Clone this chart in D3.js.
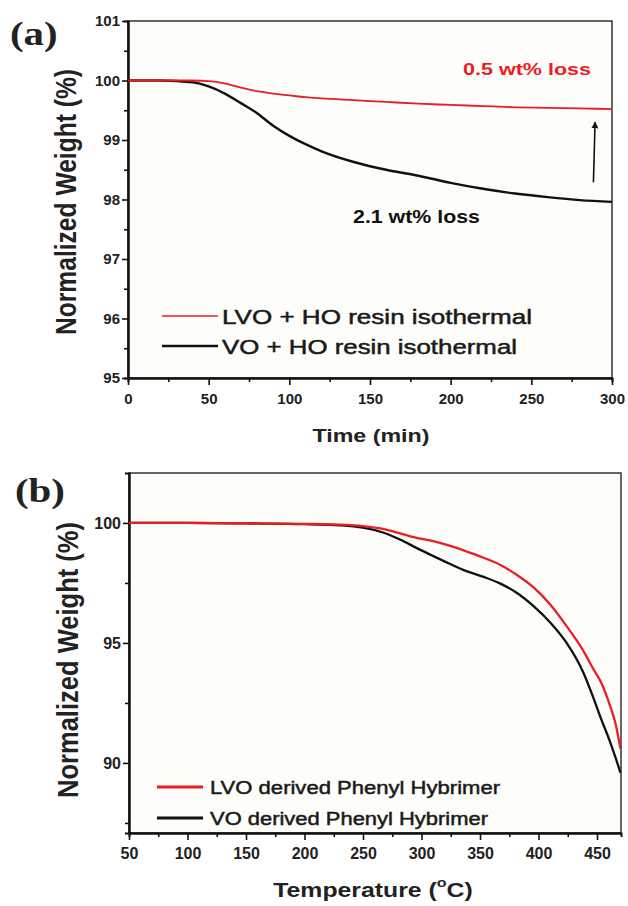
<!DOCTYPE html>
<html>
<head>
<meta charset="utf-8">
<title>TGA</title>
<script src="https://cdn.jsdelivr.net/npm/d3@7/dist/d3.min.js"></script>
<style>
  body { margin: 0; background: #fff; }
</style>
</head>
<body>
<script>
// panel (a): isothermal
const timeMin = [0, 20, 40, 50, 60, 70, 80, 90, 100, 110, 120, 140, 160, 180, 200, 220, 240, 260, 280, 300];
const lvoIso = [100, 100, 100, 99.99, 99.95, 99.88, 99.82, 99.78, 99.75, 99.72, 99.70, 99.67, 99.64, 99.61, 99.59, 99.57, 99.55, 99.54, 99.53, 99.52];
const voIso = [100, 100, 99.97, 99.9, 99.78, 99.62, 99.45, 99.24, 99.07, 98.93, 98.81, 98.63, 98.5, 98.4, 98.28, 98.18, 98.1, 98.04, 97.99, 97.96];
const timeTicks = [0, 50, 100, 150, 200, 250, 300];
const isoYTicks = [95, 96, 97, 98, 99, 100, 101];

// panel (b): ramp
const tempC = [50, 100, 150, 200, 230, 250, 267, 282, 296, 310, 324, 339, 353, 367, 381, 396, 410, 424, 438, 447, 453, 461, 466, 470];
const lvoTga = [100, 100, 99.98, 99.96, 99.93, 99.87, 99.75, 99.56, 99.38, 99.24, 99.05, 98.8, 98.55, 98.26, 97.85, 97.3, 96.6, 95.7, 94.7, 93.9, 93.4, 92.4, 91.6, 90.6];
const voTga = [100, 100, 99.98, 99.95, 99.9, 99.8, 99.6, 99.3, 98.95, 98.62, 98.3, 97.98, 97.75, 97.48, 97.1, 96.52, 95.85, 95.0, 93.8, 92.7, 91.9, 90.9, 90.2, 89.6];
const tempTicks = [50, 100, 150, 200, 250, 300, 350, 400, 450];
const tgaYTicks = [90, 95, 100];

const RED = "#ec1c24";
const SX = 1.24; // the source figure is stretched horizontally
const SANS = "'Liberation Sans', Arial, sans-serif";
const SERIF = "'Liberation Serif', 'Times New Roman', serif";

const svg = d3.select("body").append("svg").attr("width", 628).attr("height", 906)
  .attr("font-family", SANS);
svg.append("rect").attr("width", 628).attr("height", 906).attr("fill", "#fff");

function label(x, y, str, o) {
  o = o || {};
  const t = svg.append("text")
    .attr("transform", `translate(${x},${y}) scale(${SX},1)` + (o.rot ? " rotate(-90)" : ""))
    .attr("text-anchor", o.anchor || "start")
    .attr("font-size", o.size || 16)
    .attr("font-weight", o.bold ? "bold" : "normal")
    .attr("font-family", o.family || SANS)
    .attr("fill", o.fill || "#111")
    .text(str);
  if (o.heavy) t.attr("stroke", o.fill || "#111").attr("stroke-width", o.heavy);
  if (o.len) t.attr("textLength", o.len / (o.rot ? 1 : SX)).attr("lengthAdjust", "spacingAndGlyphs");
  return t;
}

function panel(p) {
  const x = d3.scaleLinear().domain(p.xd).range([p.l, p.r]);
  const y = d3.scaleLinear().domain(p.yd).range([p.b, p.t]);
  svg.append("rect").attr("x", p.l).attr("y", p.t).attr("width", p.r - p.l).attr("height", p.b - p.t)
    .attr("fill", "#fdfdf9").attr("stroke", "#333").attr("stroke-width", 1.5);

  const gxMinor = svg.append("g").attr("transform", `translate(0,${p.b})`)
    .call(d3.axisBottom(x).tickValues(p.xMinor).tickSize(4).tickFormat(""));
  const gyMinor = svg.append("g").attr("transform", `translate(${p.l},0)`)
    .call(d3.axisLeft(y).tickValues(p.yMinor).tickSize(4).tickFormat(""));
  const gx = svg.append("g").attr("transform", `translate(0,${p.b})`)
    .call(d3.axisBottom(x).tickValues(p.xTicks).tickSize(7).tickPadding(8).tickSizeOuter(0).tickFormat(d3.format("d")));
  const gy = svg.append("g").attr("transform", `translate(${p.l},0)`)
    .call(d3.axisLeft(y).tickValues(p.yTicks).tickSize(6).tickPadding(2).tickSizeOuter(0).tickFormat(d3.format("d")));
  [gxMinor, gyMinor, gx, gy].forEach(g => {
    g.select(".domain").attr("stroke", "#111").attr("stroke-width", 2);
    g.selectAll(".tick line").attr("stroke", "#111").attr("stroke-width", 1.6);
  });
  [gx, gy].forEach(g => g.selectAll(".tick text").attr("font-size", p.fs).attr("font-weight", "bold")
    .attr("fill", "#222").attr("font-family", SANS));

  const line = d3.line().x(d => x(d[0])).y(d => y(d[1])).curve(d3.curveMonotoneX);
  p.series.forEach(s => {
    svg.append("path").datum(p.xs.map((v, i) => [v, s.vals[i]]))
      .attr("d", line).attr("fill", "none").attr("stroke", s.color).attr("stroke-width", s.w);
  });
  return { x, y };
}

// ---------- (a)
const a = panel({
  l: 128, r: 612, t: 21, b: 378, xd: [0, 300], yd: [95, 101], fs: 15,
  xTicks: timeTicks, xMinor: d3.range(25, 300, 50), yTicks: isoYTicks, yMinor: d3.range(95.5, 101, 1),
  xs: timeMin,
  series: [{ vals: voIso, color: "#111", w: 2.4 }, { vals: lvoIso, color: RED, w: 1.8 }]
});

label(10, 45, "(a)", { size: 33, bold: true, family: SERIF, fill: "#222" });
label(76, 202, "Normalized Weight (%)", { rot: true, anchor: "middle", size: 24, bold: true, len: 266, fill: "#222" });
label(371, 442, "Time (min)", { anchor: "middle", size: 19, bold: true, len: 117, fill: "#222" });
label(463, 75, "0.5 wt% loss", { size: 17, bold: true, fill: RED, len: 128 });
label(353, 223, "2.1 wt% loss", { size: 18, bold: true, fill: "#111", len: 127 });

// arrow
svg.append("defs").append("marker").attr("id", "ah").attr("viewBox", "0 0 10 10")
  .attr("refX", 9).attr("refY", 5).attr("markerWidth", 7).attr("markerHeight", 9).attr("orient", "auto")
  .attr("markerUnits", "userSpaceOnUse")
  .append("path").attr("d", "M0,0L10,5L0,10Z").attr("fill", "#111");
svg.append("line").attr("x1", a.x(288.5)).attr("y1", a.y(98.29)).attr("x2", a.x(289.5)).attr("y2", a.y(99.3))
  .attr("stroke", "#111").attr("stroke-width", 1.6).attr("marker-end", "url(#ah)");

// legend (a)
const legA = [
  { name: "LVO + HO resin isothermal", color: RED, w: 1.4, y: 316 },
  { name: "VO + HO resin isothermal", color: "#111", w: 2.6, y: 346 }
];
legA.forEach(d => {
  svg.append("line").attr("x1", 162).attr("x2", 218).attr("y1", d.y).attr("y2", d.y)
    .attr("stroke", d.color).attr("stroke-width", d.w);
  label(222, d.y + 8, d.name, { size: 21, fill: "#1a1a1a", heavy: 0.5, len: d.name.length > 24 ? 310 : 295 });
});

// ---------- (b)
panel({
  l: 129, r: 621, t: 473, b: 833, xd: [50, 470.5], yd: [87.08, 102.08], fs: 16,
  xTicks: tempTicks, xMinor: d3.range(75, 470, 50), yTicks: tgaYTicks, yMinor: [87.5, 92.5, 97.5],
  xs: tempC,
  series: [{ vals: voTga, color: "#111", w: 2.3 }, { vals: lvoTga, color: RED, w: 2.3 }]
});

label(15, 502, "(b)", { size: 33, bold: true, family: SERIF, fill: "#222" });
label(78, 660, "Normalized Weight (%)", { rot: true, anchor: "middle", size: 24, bold: true, len: 276, fill: "#222" });
const tt = label(373, 897, "", { anchor: "middle", size: 20, bold: true, fill: "#222" });
tt.append("tspan").text("Temperature (");
tt.append("tspan").attr("font-size", 13).attr("dy", -10).text("o");
tt.append("tspan").attr("dy", 10).text("C)");

const legB = [
  { name: "LVO derived Phenyl Hybrimer", color: RED, y: 787 },
  { name: "VO derived Phenyl Hybrimer", color: "#111", y: 818 }
];
legB.forEach(d => {
  svg.append("line").attr("x1", 157).attr("x2", 203).attr("y1", d.y).attr("y2", d.y)
    .attr("stroke", d.color).attr("stroke-width", 3);
  label(210, d.y + 7, d.name, { size: 19, fill: "#1a1a1a", heavy: 0.5, len: d.name.startsWith("LVO") ? 290 : 278 });
});
</script>
</body>
</html>
